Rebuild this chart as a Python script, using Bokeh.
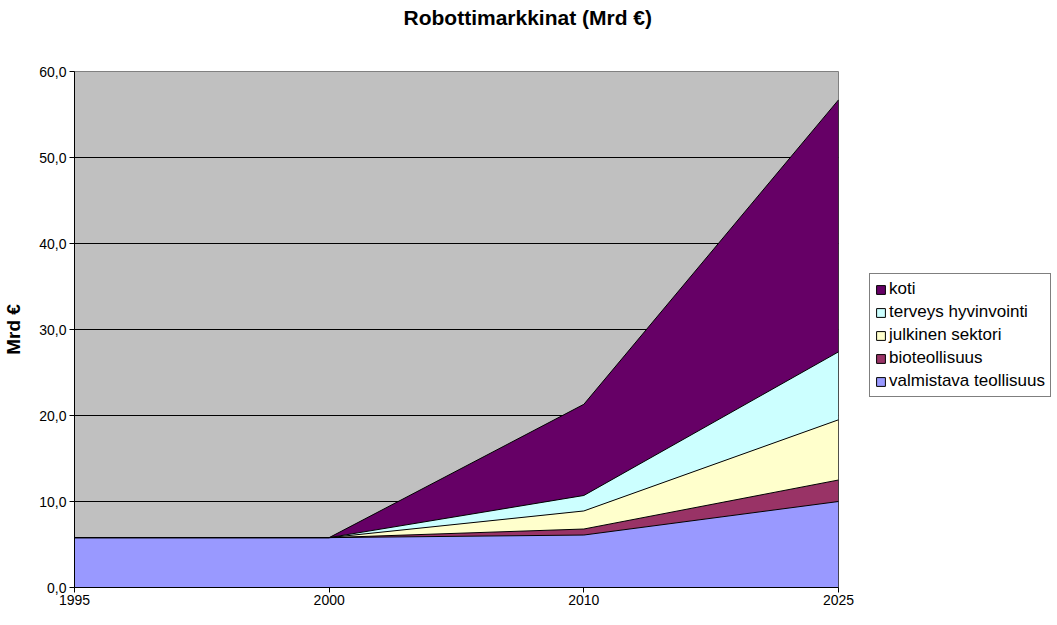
from bokeh.plotting import figure
from bokeh.models import (ColumnDataSource, FixedTicker, Legend, LegendItem,
                          Range1d, Title)
from bokeh.embed import file_html
from bokeh.resources import INLINE

# ---- data ----
years = ["1995", "2000", "2010", "2025"]
valmistava = [5.8, 5.8, 6.1, 10.0]
bioteollisuus = [0.0, 0.0, 0.7, 2.5]
julkinen = [0.0, 0.0, 2.1, 7.0]
terveys = [0.0, 0.0, 1.8, 7.9]
koti = [0.0, 0.0, 10.6, 29.3]

series_names = ["valmistava teollisuus", "bioteollisuus", "julkinen sektori",
                "terveys hyvinvointi", "koti"]
series_values = [valmistava, bioteollisuus, julkinen, terveys, koti]
colors = ["#9999FF", "#993366", "#FFFFCC", "#CCFFFF", "#660066"]
y_ticks = [0, 10, 20, 30, 40, 50, 60]

FONT = "Liberation Sans"
NAN = float("nan")

keys = [f"s{i}" for i in range(len(series_names))]
xs = list(range(len(years)))
data = {"x": xs}
for k, v in zip(keys, series_values):
    data[k] = v
src = ColumnDataSource(data)

p = figure(width=1041, height=609, frame_width=764, frame_height=516,
           x_range=Range1d(0, len(years) - 1), y_range=Range1d(0, 60),
           output_backend="svg", toolbar_location=None,
           min_border_left=67, min_border_top=63, min_border_right=210,
           min_border_bottom=30,
           background_fill_color="#C0C0C0", border_fill_color="white")
p.outline_line_color = "#808080"
p.outline_line_width = 1

# spacer between frame and title, then the title itself
spacer = Title(text=" ", text_font=FONT, text_font_size="10px", standoff=27)
p.add_layout(spacer, "above")
t = Title(text="Robottimarkkinat (Mrd €)", align="left", offset=329,
          text_font=FONT, text_font_size="21px", text_font_style="bold",
          text_color="black", standoff=6)
p.add_layout(t, "above")

# areas and outlines
areas = p.varea_stack(stackers=keys, x="x", color=colors, source=src)
p.vline_stack(stackers=keys, x="x", color="black", line_width=1, source=src)

# closing edge of the stacked areas at the last category
last_total = sum(v[-1] for v in series_values)
edge = ColumnDataSource(dict(x=[xs[-1]], y0=[0], y1=[last_total]))
p.segment(x0="x", y0="y0", x1="x", y1="y1", source=edge,
          line_color="black", line_width=1)

# legend swatches (renderers with no drawable geometry) with black borders
proxy = ColumnDataSource(dict(l=[NAN], r=[NAN], t=[NAN], b=[NAN]))
items = []
for name, c in zip(series_names, colors):
    r = p.quad(left="l", right="r", top="t", bottom="b", source=proxy,
               fill_color=c, line_color="black", line_width=1)
    items.append(LegendItem(label=name, renderers=[r]))
items = items[::-1]

legend = Legend(items=items, location=(31, 190), orientation="vertical",
                label_text_font=FONT, label_text_font_size="17px",
                label_text_color="black", glyph_width=11, glyph_height=11,
                label_standoff=3, label_height=20, spacing=3, padding=5,
                margin=14, border_line_color="black", border_line_width=1,
                background_fill_color="white", background_fill_alpha=1)
p.add_layout(legend, "right")

# axes
p.xaxis.ticker = FixedTicker(ticks=xs)
p.xaxis.major_label_overrides = {i: y for i, y in enumerate(years)}
p.yaxis.ticker = FixedTicker(ticks=y_ticks)
p.yaxis.major_label_overrides = {v: f"{v:.1f}".replace(".", ",") for v in y_ticks}
for ax in (p.xaxis, p.yaxis):
    ax.major_label_text_font = FONT
    ax.major_label_text_font_size = "14px"
    ax.major_label_text_color = "black"
    ax.axis_line_color = "black"
    ax.major_tick_line_color = "black"
    ax.major_tick_out = 5
    ax.major_tick_in = 0
    ax.minor_tick_line_color = None
    ax.major_label_standoff = 3
p.xaxis.major_label_standoff = 2
p.yaxis.axis_label = "Mrd €"
p.yaxis.axis_label_text_font = FONT
p.yaxis.axis_label_text_font_size = "19px"
p.yaxis.axis_label_text_font_style = "bold"
p.yaxis.axis_label_standoff = 12
p.yaxis.axis_label_text_color = "black"

p.xgrid.grid_line_color = None
p.ygrid.grid_line_color = "black"
p.ygrid.grid_line_width = 1

open("out.html", "w").write(file_html(p, INLINE))
